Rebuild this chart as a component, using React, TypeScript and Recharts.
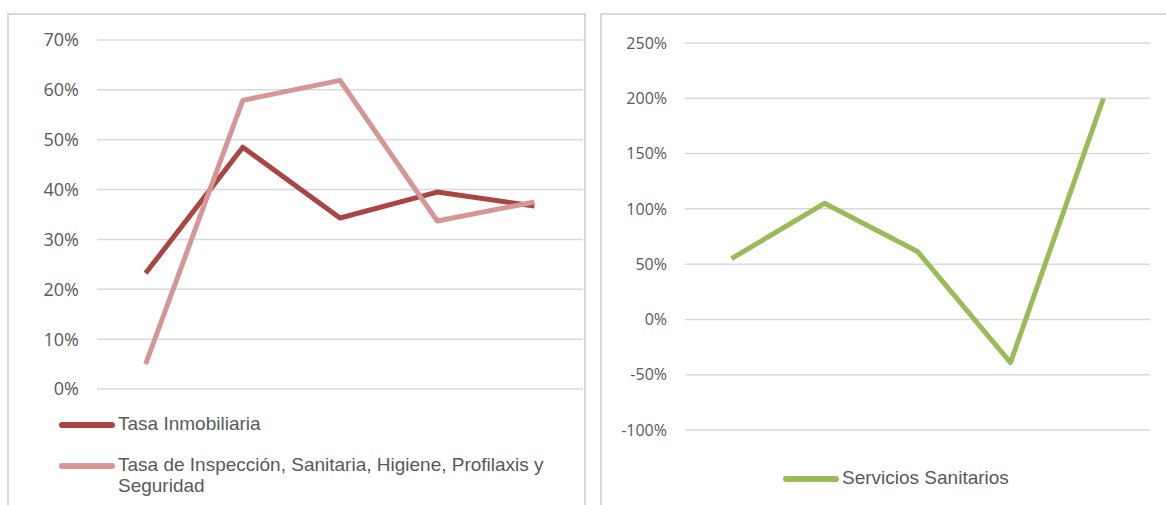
import React from 'react';
import { LineChart, Line, XAxis, YAxis, CartesianGrid } from 'recharts';

// periods are not labelled in the picture
const periods = ['P1', 'P2', 'P3', 'P4', 'P5'];

const tasaInmobiliaria = [0.232, 0.485, 0.343, 0.395, 0.367];
const tasaInspeccion = [0.05, 0.579, 0.619, 0.337, 0.375];
const serviciosSanitarios = [0.55, 1.05, 0.615, -0.39, 2.0];

const leftTicks = [0, 0.1, 0.2, 0.3, 0.4, 0.5, 0.6, 0.7];
const rightTicks = [-1, -0.5, 0, 0.5, 1, 1.5, 2, 2.5];

const leftSeries = [
  { key: 'inmobiliaria', name: 'Tasa Inmobiliaria', color: '#A94543' },
  { key: 'inspeccion', name: 'Tasa de Inspección, Sanitaria, Higiene, Profilaxis y Seguridad', color: '#D59695' },
];
const rightSeries = [{ key: 'sanitarios', name: 'Servicios Sanitarios', color: '#9BBB59' }];

const leftData = periods.map((p, i) => ({
  period: p,
  inmobiliaria: tasaInmobiliaria[i],
  inspeccion: tasaInspeccion[i],
}));
const rightData = periods.map((p, i) => ({ period: p, sanitarios: serviciosSanitarios[i] }));

const pct = (v: number) => `${Math.round(v * 100)}%`;
const textColor = '#595959';
const gridColor = '#D9D9D9';
const legendFont = '"Liberation Sans", Arial, sans-serif';
const tickFont = '"Open Sans", sans-serif';

function LegendItem({ name, color, textWidth }: { name: string; color: string; textWidth?: number }) {
  return (
    <div style={{ display: 'flex', alignItems: 'flex-start' }}>
      <div
        style={{
          width: 56,
          height: 6,
          borderRadius: 3,
          background: color,
          marginTop: 9,
          flexShrink: 0,
        }}
      />
      <div style={{ marginLeft: 3, lineHeight: '21px', width: textWidth }}>{name}</div>
    </div>
  );
}

export default function App() {
  return (
    <div
      style={{
        position: 'absolute',
        left: 0,
        top: 0,
        width: 1166,
        height: 505,
        background: '#fff',
        overflow: 'hidden',
        fontFamily: legendFont,
      }}
    >
      {/* panel frames */}
      <div
        style={{
          position: 'absolute',
          left: 7,
          top: 13,
          width: 575,
          height: 500,
          border: `2px solid ${gridColor}`,
          borderBottom: 'none',
        }}
      />
      <div
        style={{
          position: 'absolute',
          left: 600,
          top: 13,
          width: 580,
          height: 500,
          border: `2px solid ${gridColor}`,
          borderBottom: 'none',
        }}
      />

      <div style={{ position: 'absolute', left: 0, top: 0 }}>
        <LineChart width={600} height={505} data={leftData} margin={{ top: 40, right: 17, bottom: 116, left: 0 }}>
          <CartesianGrid vertical={false} stroke={gridColor} strokeWidth={1.5} />
          <XAxis dataKey="period" hide padding={{ left: 48.6, right: 48.6 }} />
          <YAxis
            domain={[0, 0.7]}
            ticks={leftTicks}
            tickFormatter={pct}
            width={97}
            axisLine={false}
            tickLine={false}
            tickSize={0}
            tickMargin={18}
            tick={{ fill: textColor, fontSize: 18, fontFamily: tickFont }}
          />
          {leftSeries.map((s) => (
            <Line
              key={s.key}
              dataKey={s.key}
              name={s.name}
              stroke={s.color}
              strokeWidth={5}
              dot={false}
              activeDot={false}
              strokeLinejoin="round"
              isAnimationActive={false}
            />
          ))}
        </LineChart>
      </div>

      <div
        style={{
          position: 'absolute',
          left: 59,
          top: 413,
          fontSize: 19,
          color: textColor,
          display: 'flex',
          flexDirection: 'column',
          gap: 20,
        }}
      >
        {leftSeries.map((s) => (
          <LegendItem key={s.key} name={s.name} color={s.color} textWidth={455} />
        ))}
      </div>

      <div style={{ position: 'absolute', left: 601, top: 0 }}>
        <LineChart width={565} height={505} data={rightData} margin={{ top: 43, right: 16, bottom: 75, left: 0 }}>
          <CartesianGrid vertical={false} stroke={gridColor} strokeWidth={1.5} />
          <XAxis dataKey="period" hide padding={{ left: 46.5, right: 46.5 }} />
          <YAxis
            domain={[-1, 2.5]}
            ticks={rightTicks}
            tickFormatter={pct}
            width={84}
            axisLine={false}
            tickLine={false}
            tickSize={0}
            tickMargin={18}
            tick={{ fill: textColor, fontSize: 16, fontFamily: tickFont }}
          />
          {rightSeries.map((s) => (
            <Line
              key={s.key}
              dataKey={s.key}
              name={s.name}
              stroke={s.color}
              strokeWidth={5}
              dot={false}
              activeDot={false}
              strokeLinejoin="round"
              isAnimationActive={false}
            />
          ))}
        </LineChart>
      </div>

      <div
        style={{
          position: 'absolute',
          left: 783,
          top: 467,
          fontSize: 19,
          color: textColor,
          whiteSpace: 'nowrap',
        }}
      >
        {rightSeries.map((s) => (
          <LegendItem key={s.key} name={s.name} color={s.color} />
        ))}
      </div>
    </div>
  );
}
